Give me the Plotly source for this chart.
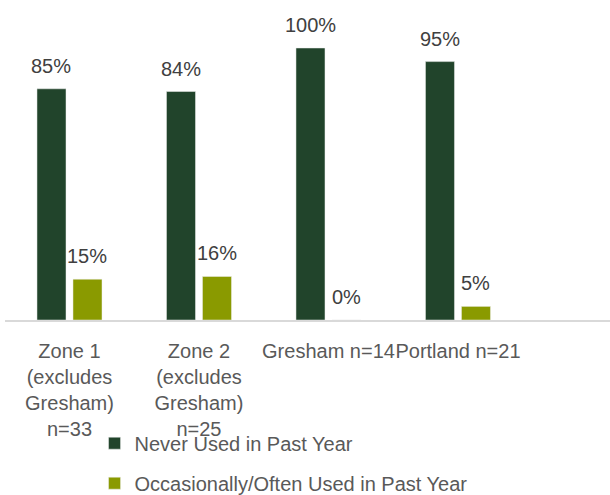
import plotly.graph_objects as go

categories = ["Zone 1<br>(excludes<br>Gresham)<br>n=33",
              "Zone 2<br>(excludes<br>Gresham)<br>n=25",
              "Gresham n=14",
              "Portland n=21"]
never_used = [0.85, 0.84, 1.00, 0.95]
occasional = [0.15, 0.16, 0.00, 0.05]
series_names = ["Never Used in Past Year", "Occasionally/Often Used in Past Year"]
colors = ["#21442B", "#8A9A00"]

FONT = "Liberation Sans"

fig = go.Figure()
for i, (name, vals) in enumerate(zip(series_names, [never_used, occasional])):
    fig.add_trace(go.Bar(
        x=categories, y=vals, name=name,
        marker=dict(color=colors[i], line=dict(color="#eeeeee", width=0.5)),
        legendgroup=f"g{i}",
        hoverinfo="skip",
    ))
    for c, v in zip(categories, vals):
        fig.add_annotation(
            x=c, y=v, xref="x", yref="y",
            text=f"{round(v*100)}%",
            showarrow=False,
            xshift=-18 if i == 0 else 18,
            yshift=23, yanchor="middle",
            font=dict(family=FONT, size=20, color="#404040"),
        )

fig.update_layout(
    width=610, height=495,
    margin=dict(l=5, r=0, t=0, b=175, autoexpand=False),
    paper_bgcolor="white", plot_bgcolor="white",
    barmode="group", bargap=0.444, bargroupgap=0.194,
    font=dict(family=FONT, size=20, color="#595959"),
    showlegend=True,
    legend=dict(
        orientation="v", x=0.148, xanchor="left", y=-0.324, yanchor="top",
        traceorder="grouped", tracegroupgap=11,
        font=dict(family=FONT, size=20, color="#595959"),
        bgcolor="rgba(0,0,0,0)",
    ),
    xaxis=dict(
        type="category", range=[-0.498, 4.174],
        showline=True, linecolor="#d9d9d9", linewidth=1.5,
        ticks="", showgrid=False, zeroline=False,
        tickangle=0, automargin=False,
        tickfont=dict(family=FONT, size=20, color="#595959"),
        ticklabelstandoff=12,
        fixedrange=True,
    ),
    yaxis=dict(
        range=[0, 320/272], visible=False, showgrid=False, zeroline=False,
        automargin=False, fixedrange=True,
    ),
)

fig.write_html("out.html", config={"displayModeBar": False},
               post_script="document.body.style.margin='0';")
